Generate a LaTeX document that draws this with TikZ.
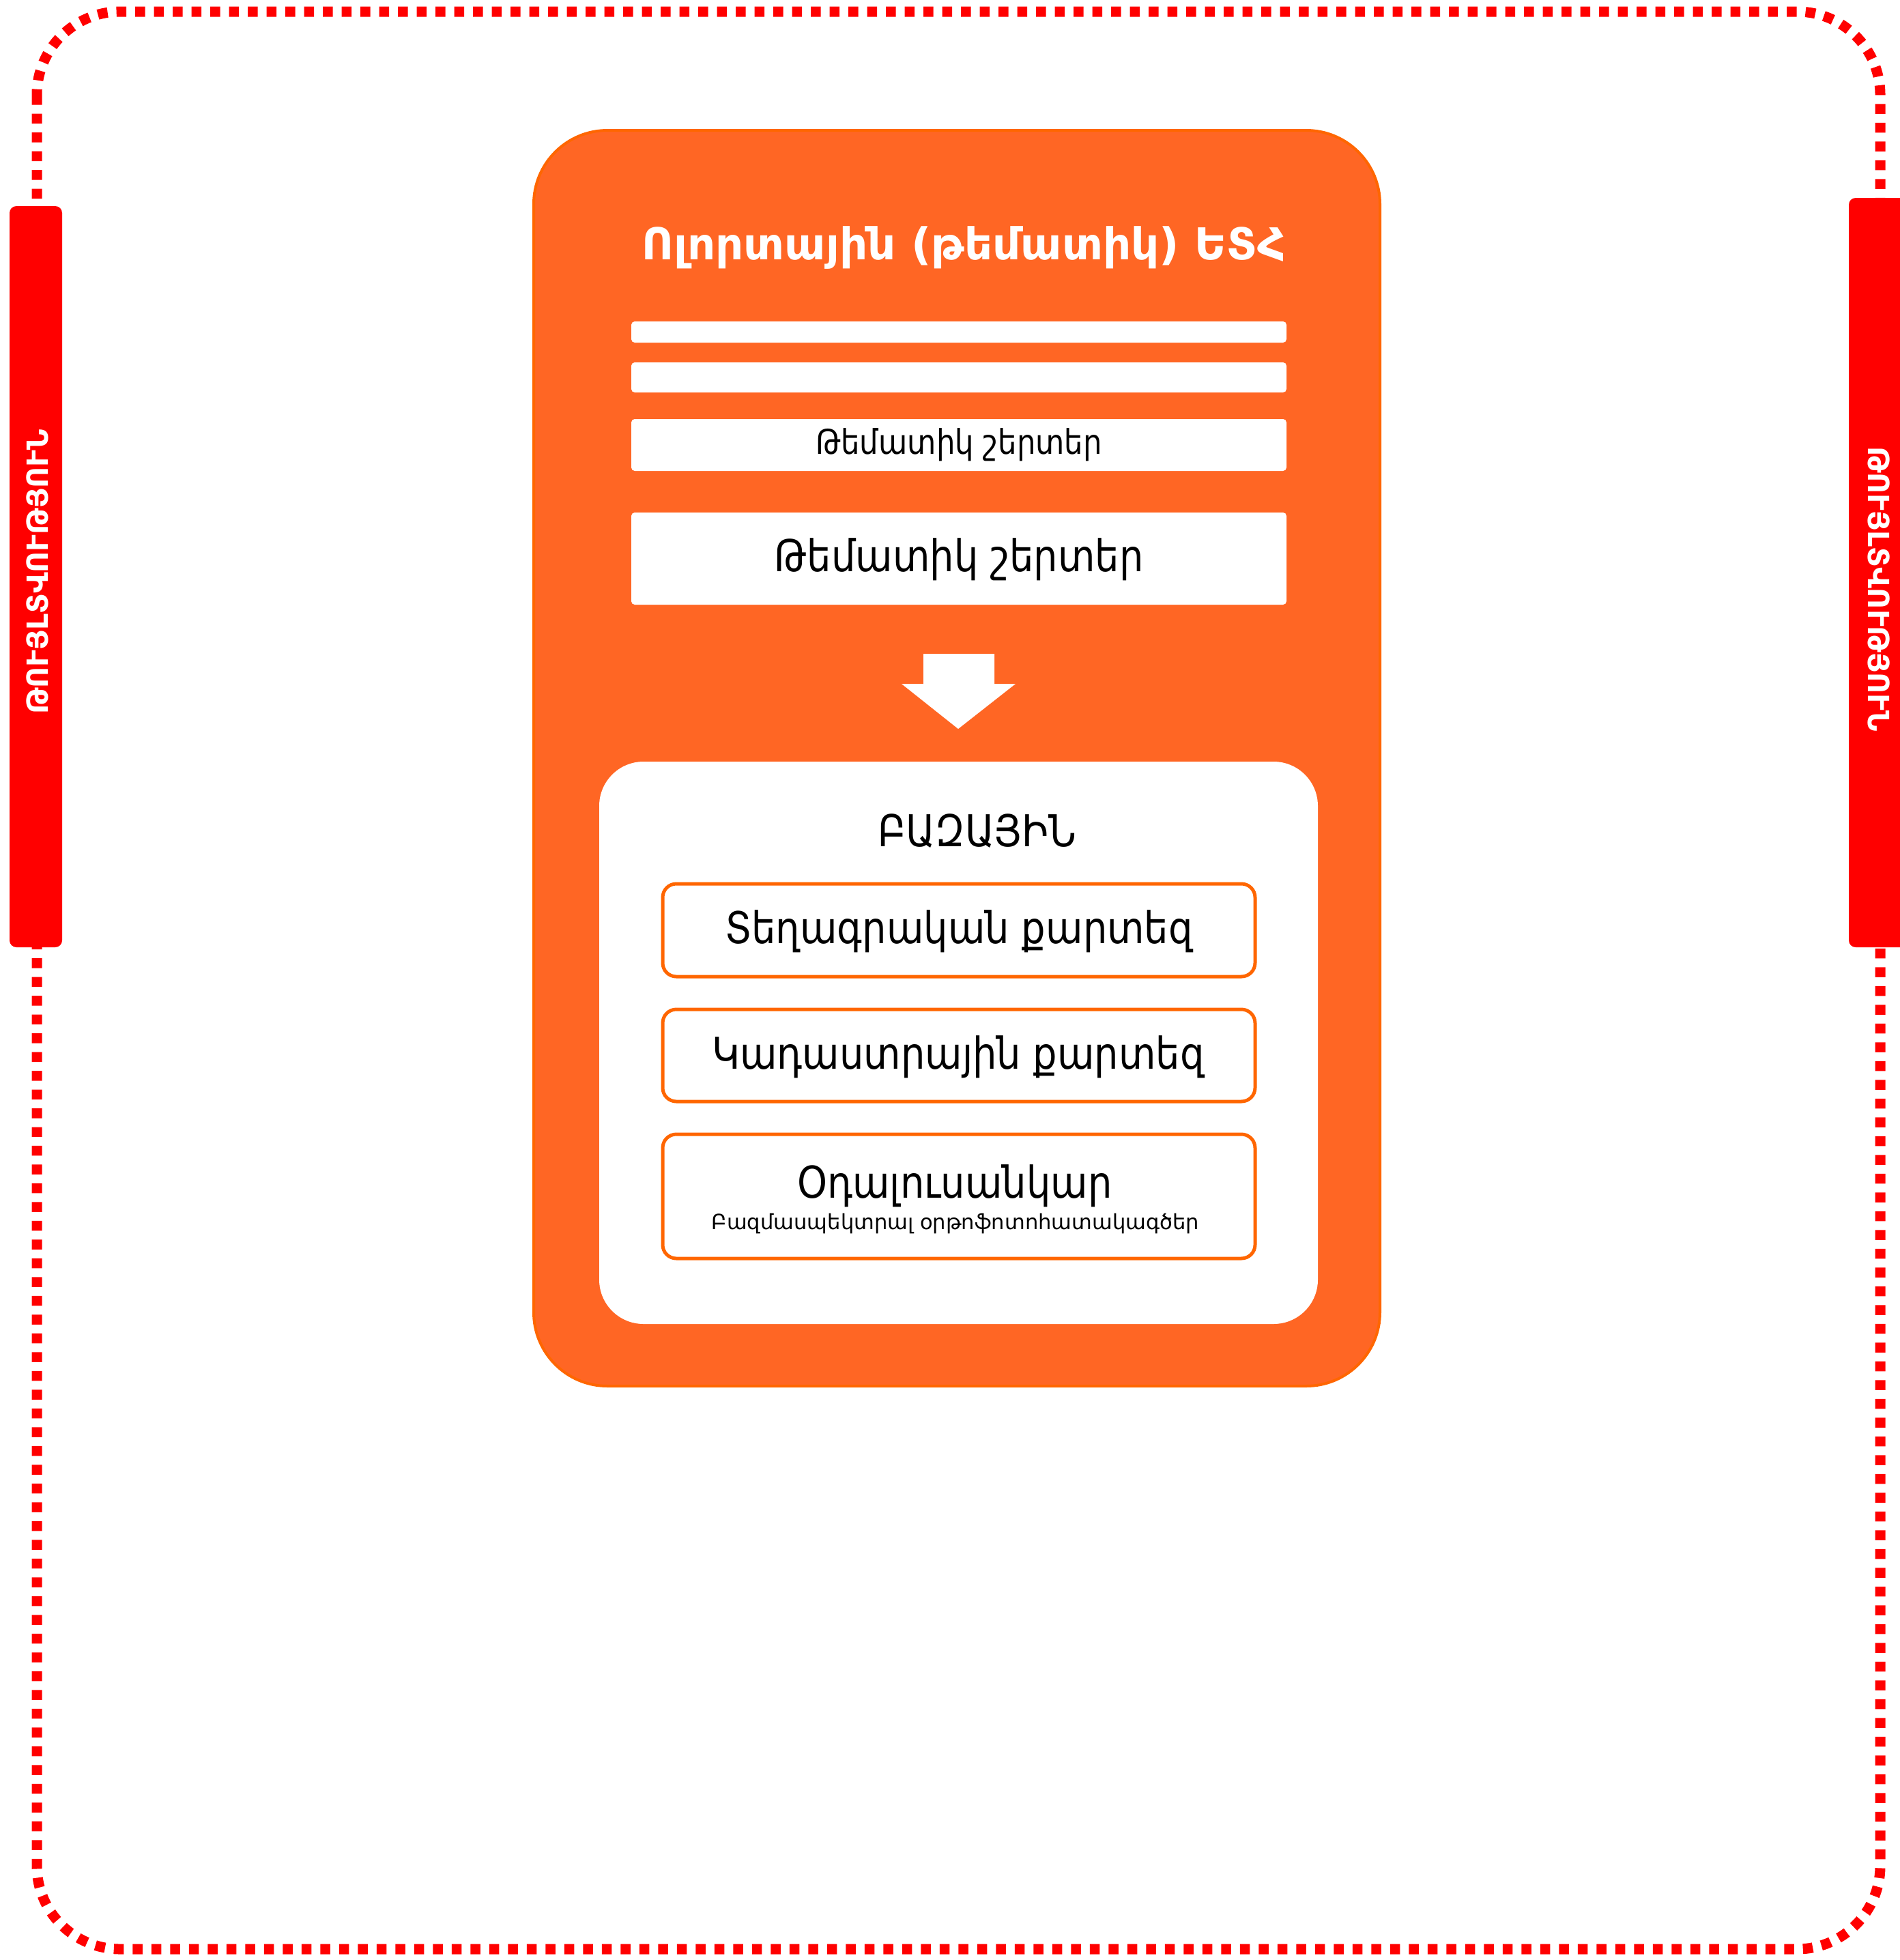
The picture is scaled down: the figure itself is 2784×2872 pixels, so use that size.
\documentclass[tikz,border=0pt]{standalone}
\usepackage{fontspec}
\setmainfont{DejaVu Sans}
\newfontfamily\kcond{DejaVu Sans}[FakeStretch=0.87]
\definecolor{kred}{RGB}{255,0,0}
\definecolor{korange}{RGB}{255,102,36}
\definecolor{kline}{RGB}{255,102,0}
\tikzset{
  permtext/.style={white,font=\bfseries\fontsize{12.15}{14}\selectfont},
  mapbox/.style={kline,line width=0.5mm,rounded corners=2mm},
  maptext/.style={anchor=base,font=\kcond\fontsize{18.3}{20}\selectfont}
}
\begin{document}
\begin{tikzpicture}[x=0.1mm,y=-0.1mm]
\useasboundingbox(0,0)rectangle(2784,2872);
\draw[kred,line width=1.5mm,dash pattern=on 1.45mm off 1.3mm,rounded corners=12.2mm](54,17)rectangle(2755,2856);
\fill[kred,rounded corners=1mm](14,302)rectangle(91,1388);
\fill[kred,rounded corners=1mm](2709,290)rectangle(2800,1388);
\node[permtext,rotate=90](lperm)at(55,838){ԹՈՒՅԼՏՎՈՒԹՅՈՒՆ};
\node[permtext,rotate=-90](rperm)at(2753,863){ԹՈՒՅԼՏՎՈՒԹՅՈՒՆ};
\filldraw[fill=korange,draw=kline,line width=0.4mm,rounded corners=10.8mm](782,191)rectangle(2022,2031);
\node[white,anchor=base,font=\bfseries\fontsize{18.3}{20}\selectfont](title)at(1412,380){Ոլորտային (թեմատիկ) ԵՏՀ};
\foreach \ya/\yb in {471/502,531/575,614/690,751/886}{\fill[white,rounded corners=0.5mm](925,\ya)rectangle(1885,\yb);}
\node[anchor=base,font=\kcond\fontsize{14.2}{15}\selectfont](thinlayer)at(1405,665){Թեմատիկ շերտեր};
\node[maptext](layer)at(1405,837){Թեմատիկ շերտեր};
\fill[white](1353,958)--(1457,958)--(1457,1002)--(1488,1002)--(1404,1068)--(1321,1002)--(1353,1002)--cycle;
\fill[white,rounded corners=6.5mm](878,1116)rectangle(1931,1940);
\node[maptext](base)at(1432,1240){ԲԱԶԱՅԻՆ};
\foreach \ya/\yb in {1295/1431,1479/1614,1662/1844}{\draw[mapbox](971,\ya)rectangle(1839,\yb);}
\node[maptext](topo)at(1405,1382){Տեղագրական քարտեզ};
\node[maptext](cadas)at(1404,1566){Կադաստրային քարտեզ};
\node[maptext](aerial)at(1399,1755){Օդալուսանկար};
\node[anchor=base,font=\fontsize{8.7}{10}\selectfont](ortho)at(1400,1801){Բազմասպեկտրալ օրթոֆոտոհատակագծեր};
\end{tikzpicture}
\end{document}
